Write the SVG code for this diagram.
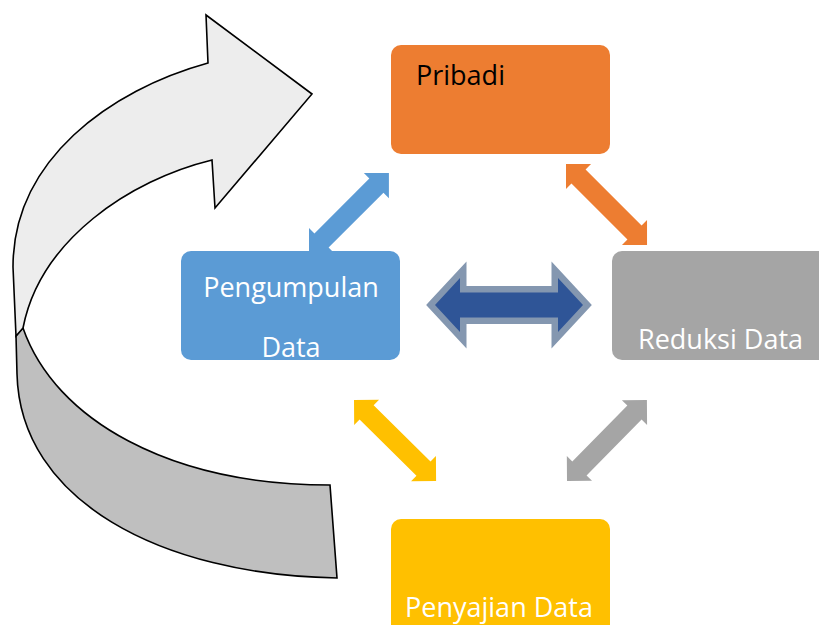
<svg xmlns="http://www.w3.org/2000/svg" width="819" height="625" viewBox="0 0 819 625">
<style>
.lbl{font-family:"Open Sans","Liberation Sans",sans-serif;font-size:27px;fill:#FFFFFF}
.dark{fill:#000000}
.cv{stroke:#000;stroke-width:1.6;stroke-linejoin:miter}
</style>
<rect width="819" height="625" fill="#FFFFFF"/>
<g id="connectors">
  <g id="curved-arrow">
    <path class="cv" fill="#BFBFBF" d="M23,328 C55,420 170,485 330,485 L337,578 C160,575 20,500 17,374 L16,336 Z"/>
    <path class="cv" fill="#EDEDED" d="M208,63 L206,15 L312,94 L215,208 L212,160 C130,180 40,240 23,328 L16,336 L13,267 C13,160 110,90 208,63 Z"/>
  </g>
  <polygon fill="#5B9BD5" transform="translate(309,253) rotate(-45)" points="0,0 17.7,-17.7 17.7,-10 95.3,-10 95.3,-17.7 113,0 95.3,17.7 95.3,10 17.7,10 17.7,17.7"/>
  <polygon fill="#ED7D31" transform="translate(566,164) rotate(45)" points="0,0 17.7,-17.7 17.7,-10 96.9,-10 96.9,-17.7 114.6,0 96.9,17.7 96.9,10 17.7,10 17.7,17.7"/>
  <polygon fill="#FFC000" transform="translate(354,400) rotate(44.6)" points="0,0 17.7,-17.7 17.7,-10 97.6,-10 97.6,-17.7 115.3,0 97.6,17.7 97.6,10 17.7,10 17.7,17.7"/>
  <polygon fill="#A5A5A5" transform="translate(567,481) rotate(-45.4)" points="0,0 17.7,-17.7 17.7,-10 96.1,-10 96.1,-17.7 113.8,0 96.1,17.7 96.1,10 17.7,10 17.7,17.7"/>
  <polygon fill="#2F5597" stroke="#8497B0" stroke-width="13" stroke-linejoin="miter" paint-order="stroke" points="435,305 460,278 460,292.5 558,292.5 558,278 583,305 558,332 558,317.5 460,317.5 460,332"/>
</g>
<g id="node-pribadi">
  <rect x="391" y="45" width="219" height="109" rx="10" fill="#ED7D31"/>
  <text class="lbl dark" x="416" y="85">Pribadi</text>
</g>
<g id="node-pengumpulan">
  <rect x="181" y="251" width="219" height="109" rx="10" fill="#5B9BD5"/>
  <text class="lbl" x="291" y="297" text-anchor="middle">Pengumpulan</text>
  <text class="lbl" x="291" y="357" text-anchor="middle">Data</text>
</g>
<g id="node-reduksi">
  <rect x="612" y="251" width="220" height="109" rx="10" fill="#A5A5A5"/>
  <text class="lbl" x="638" y="349">Reduksi Data</text>
</g>
<g id="node-penyajian">
  <rect x="391" y="519" width="219" height="120" rx="10" fill="#FFC000"/>
  <text class="lbl" x="405" y="617">Penyajian Data</text>
</g>
</svg>
